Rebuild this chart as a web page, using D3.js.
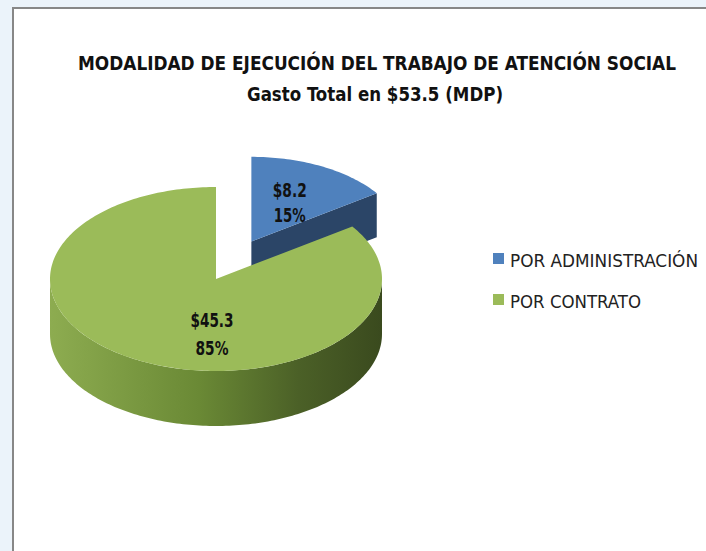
<!DOCTYPE html>
<html>
<head>
<meta charset="utf-8">
<script src="https://cdn.jsdelivr.net/npm/d3@7/dist/d3.min.js"></script>
<style>
  body { margin: 0; background: #ebf3fa; }
  svg { display: block; }
</style>
</head>
<body>
<svg id="chart" width="706" height="551"></svg>
<script>
// data
const categories = ["POR ADMINISTRACIÓN", "POR CONTRATO"];
const values = [8.2, 45.3];
const percents = ["15%", "85%"];
const titleLines = ["MODALIDAD DE EJECUCIÓN DEL TRABAJO DE ATENCIÓN SOCIAL", "Gasto Total en $53.5 (MDP)"];

const topColors = ["#4f81bd", "#9bbb59"];
const faceColors = ["#2b4567", "#4d6228"];

let svg = d3.select("#chart");
let fontF = "'Liberation Sans Narrow', 'DejaVu Sans Condensed', 'Roboto Condensed', Roboto, sans-serif";

// chart frame
svg.append("rect").attr("x", 13).attr("y", 8).attr("width", 700).attr("height", 560)
  .attr("fill", "#fff").attr("stroke", "#878787").attr("stroke-width", 2);

// title
svg.append("text").attr("x", 377).attr("y", 70).attr("text-anchor", "middle")
  .attr("font-family", fontF).attr("font-weight", "bold").attr("font-size", 19)
  .attr("textLength", 598).attr("lengthAdjust", "spacingAndGlyphs")
  .attr("fill", "#111").text(titleLines[0]);
svg.append("text").attr("x", 375).attr("y", 101).attr("text-anchor", "middle")
  .attr("font-family", fontF).attr("font-weight", "bold").attr("font-size", 20)
  .attr("textLength", 256).attr("lengthAdjust", "spacingAndGlyphs")
  .attr("fill", "#111").text(titleLines[1]);

// gradient for the side of the big slice
let defs = svg.append("defs");
let grad = defs.append("linearGradient").attr("id", "sideG")
  .attr("gradientUnits", "userSpaceOnUse").attr("x1", 50).attr("x2", 382).attr("y1", 0).attr("y2", 0);
grad.append("stop").attr("offset", 0).attr("stop-color", "#8dac50");
grad.append("stop").attr("offset", 0.45).attr("stop-color", "#6a8935");
grad.append("stop").attr("offset", 0.75).attr("stop-color", "#4b6027");
grad.append("stop").attr("offset", 1).attr("stop-color", "#3a4a1e");

// pie geometry (pseudo 3D)
let cx = 216, cy = 279, rx = 166, ry = 92, depth = 55;
let explode = [0.46, 0];      // fraction of radius
let shrink = [0.92, 1];       // farther slice looks smaller
let depths = [44, depth];

let pie = d3.pie().sort(null).startAngle(0).endAngle(2 * Math.PI);
let arcs = pie(values);

function geo(d, i) {
  let mid = (d.startAngle + d.endAngle) / 2;
  let e = explode[i];
  return {
    x: cx + e * rx * Math.sin(mid),
    y: cy - e * ry * Math.cos(mid),
    rx: rx * shrink[i],
    ry: ry * shrink[i],
    h: depths[i]
  };
}
function pt(g, a, dz) {
  return [g.x + g.rx * Math.sin(a), g.y - g.ry * Math.cos(a) + (dz || 0)];
}
function arcPts(g, a0, a1, dz) {
  let n = Math.max(2, Math.ceil((a1 - a0) / 0.02));
  return d3.range(n + 1).map(k => pt(g, a0 + (a1 - a0) * k / n, dz));
}
let line = d3.line();

let order = [0, 1]; // draw the small (back) slice first
order.forEach(i => {
  let d = arcs[i];
  let g = geo(d, i);
  let grp = svg.append("g");

  // visible cut faces
  [[d.startAngle, d.startAngle - Math.PI / 2], [d.endAngle, d.endAngle + Math.PI / 2]].forEach(([a, n]) => {
    if (Math.cos(n) < -0.01) {
      let p = pt(g, a), q = pt(g, a, g.h);
      grp.append("path")
        .attr("d", line([[g.x, g.y], p, q, [g.x, g.y + g.h]]) + "Z")
        .attr("fill", faceColors[i]);
    }
  });

  // outer side (front half only)
  let s = Math.max(d.startAngle, Math.PI / 2), e = Math.min(d.endAngle, 3 * Math.PI / 2);
  if (e > s) {
    let topP = arcPts(g, s, e, 0);
    let botP = arcPts(g, s, e, g.h).reverse();
    grp.append("path").attr("d", line(topP.concat(botP)) + "Z")
      .attr("fill", i == 1 ? "url(#sideG)" : faceColors[i]);
  }

  // top
  grp.append("path")
    .attr("d", line([[g.x, g.y]].concat(arcPts(g, d.startAngle, d.endAngle, 0))) + "Z")
    .attr("fill", topColors[i]);
});

// data labels
let labelW = [[34, 32], [43, 33]];
arcs.forEach((d, i) => {
  let g = geo(d, i);
  let mid = (d.startAngle + d.endAngle) / 2;
  let lx = i == 0 ? g.x + 0.5 * g.rx * Math.sin(mid) + 3 : g.x - 4;
  let ly = i == 0 ? g.y - 0.5 * g.ry * Math.cos(mid) - 7 : g.y + 48;
  let gap = i == 0 ? 25 : 28;
  let t1 = "$" + values[i];
  [t1, percents[i]].forEach((t, k) => {
    svg.append("text").attr("x", lx).attr("y", ly + k * gap)
      .attr("text-anchor", "middle")
      .attr("font-family", fontF).attr("font-weight", "bold").attr("font-size", 20)
      .attr("textLength", labelW[i][k]).attr("lengthAdjust", "spacingAndGlyphs")
      .attr("fill", "#111").text(t);
  });
});

// legend
let leg = svg.append("g").attr("transform", "translate(493,253)");
categories.forEach((c, i) => {
  let row = leg.append("g").attr("transform", `translate(0,${i * 41})`);
  row.append("rect").attr("width", 11).attr("height", 11).attr("fill", topColors[i]);
  row.append("text").attr("x", 17).attr("y", 14)
    .attr("font-family", fontF).attr("font-size", 18).attr("fill", "#222")
    .attr("textLength", i == 0 ? 188 : 131).attr("lengthAdjust", "spacingAndGlyphs")
    .text(c);
});
</script>
</body>
</html>
